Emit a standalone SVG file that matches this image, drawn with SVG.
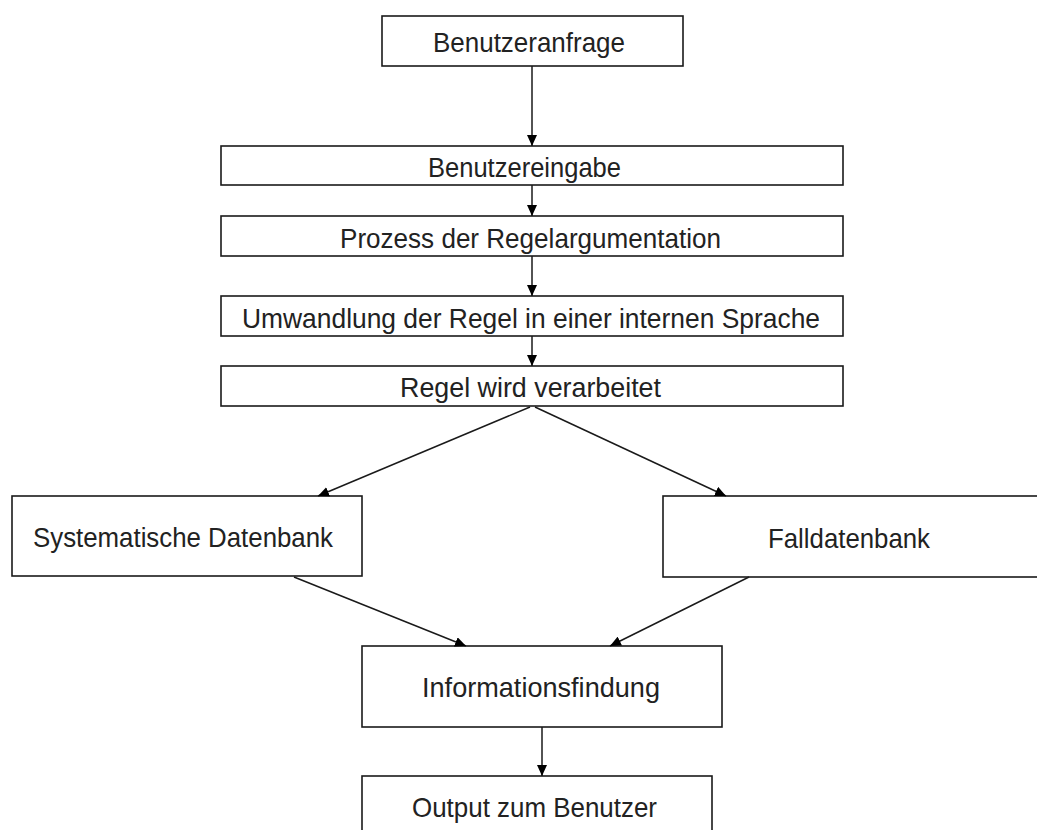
<svg xmlns="http://www.w3.org/2000/svg" width="1037" height="830" viewBox="0 0 1037 830">
  <style>
    .box { fill: #ffffff; stroke: #1a1a1a; stroke-width: 1.6; }
    .lbl { font-family: "Liberation Sans", Arial, sans-serif; font-size: 27.5px; fill: #222222; }
    .edge { fill: none; stroke: #1a1a1a; stroke-width: 1.5; marker-end: url(#arrow); }
  </style>
  <defs>
    <marker id="arrow" markerUnits="userSpaceOnUse" markerWidth="12" markerHeight="10" refX="11" refY="5" orient="auto">
      <path d="M0,0 L11,5 L0,10 z" fill="#000000"/>
    </marker>
  </defs>
  <rect width="1037" height="830" fill="#ffffff"/>

  <!-- processing chain -->
  <g id="node-anfrage">
    <rect class="box" x="382" y="16" width="301" height="50"/>
    <text class="lbl" x="433" y="52" textLength="192" lengthAdjust="spacingAndGlyphs">Benutzeranfrage</text>
  </g>
  <g id="node-eingabe">
    <rect class="box" x="221" y="146" width="622" height="39"/>
    <text class="lbl" x="428" y="177" textLength="193" lengthAdjust="spacingAndGlyphs">Benutzereingabe</text>
  </g>
  <g id="node-prozess">
    <rect class="box" x="221" y="216" width="622" height="40"/>
    <text class="lbl" x="340" y="248" textLength="381" lengthAdjust="spacingAndGlyphs">Prozess der Regelargumentation</text>
  </g>
  <g id="node-umwandlung">
    <rect class="box" x="221" y="296" width="622" height="40"/>
    <text class="lbl" x="242" y="328" textLength="578" lengthAdjust="spacingAndGlyphs">Umwandlung der Regel in einer internen Sprache</text>
  </g>
  <g id="node-verarbeitet">
    <rect class="box" x="221" y="366" width="622" height="40"/>
    <text class="lbl" x="400" y="397" textLength="261" lengthAdjust="spacingAndGlyphs">Regel wird verarbeitet</text>
  </g>

  <!-- databases -->
  <g id="node-systematisch">
    <rect class="box" x="12" y="496" width="350" height="80"/>
    <text class="lbl" x="33" y="547" textLength="300" lengthAdjust="spacingAndGlyphs">Systematische Datenbank</text>
  </g>
  <g id="node-fall">
    <rect class="box" x="663" y="496" width="380" height="81"/>
    <text class="lbl" x="768" y="548" textLength="162" lengthAdjust="spacingAndGlyphs">Falldatenbank</text>
  </g>

  <!-- result -->
  <g id="node-information">
    <rect class="box" x="362" y="646" width="360" height="81"/>
    <text class="lbl" x="422" y="697" textLength="238" lengthAdjust="spacingAndGlyphs">Informationsfindung</text>
  </g>
  <g id="node-output">
    <rect class="box" x="362" y="776" width="350" height="70"/>
    <text class="lbl" x="412" y="817" textLength="245" lengthAdjust="spacingAndGlyphs">Output zum Benutzer</text>
  </g>

  <!-- connectors -->
  <g id="connectors">
    <line class="edge" x1="532" y1="66" x2="532" y2="146"/>
    <line class="edge" x1="532" y1="185" x2="532" y2="216"/>
    <line class="edge" x1="532" y1="256" x2="532" y2="296"/>
    <line class="edge" x1="532" y1="336" x2="532" y2="366"/>
    <line class="edge" x1="530" y1="407" x2="318" y2="496"/>
    <line class="edge" x1="535" y1="407" x2="726" y2="496"/>
    <line class="edge" x1="294" y1="577" x2="466" y2="646"/>
    <line class="edge" x1="749" y1="577" x2="610" y2="646"/>
    <line class="edge" x1="542" y1="727" x2="542" y2="776"/>
  </g>
</svg>
